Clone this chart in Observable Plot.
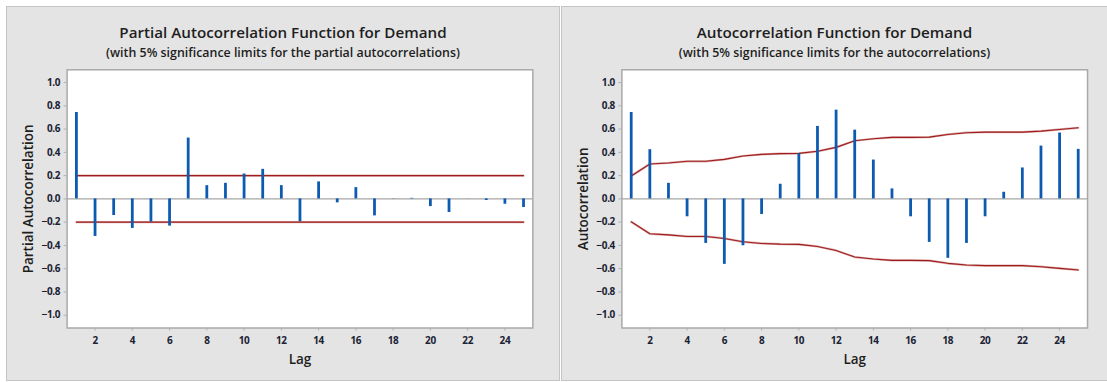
<!DOCTYPE html>
<html>
<head>
<meta charset="utf-8">
<script src="https://cdn.jsdelivr.net/npm/d3@7"></script>
<script src="https://cdn.jsdelivr.net/npm/@observablehq/plot@0.6"></script>
<style>
  html, body { margin: 0; padding: 0; background: #ffffff; }
  #root { position: relative; width: 1107px; height: 382px; overflow: hidden; font-family: "Open Sans", "Noto Sans", sans-serif; }
  .panel { position: absolute; background: #e4e4e4; border: 1px solid #c4c4c4; box-sizing: border-box; }
  .title { position: absolute; left: 0; right: 0; text-align: center; color: #1e1e1e; font-weight: 600; white-space: nowrap; }
  .t1 { font-size: 15.2px; top: 15px; }
  .t2 { font-size: 12.4px; top: 37px; }
  .chart { position: absolute; left: 0; top: 54px; }
  .chart svg { background: transparent !important; overflow: visible; }
  .chart g[aria-label="x-axis tick label"] text, .chart g[aria-label="y-axis tick label"] text { font-size: 10px; font-weight: 700; fill: #1a2233; letter-spacing: -0.4px; }
  .chart g[aria-label="x-axis label"] text, .chart g[aria-label="y-axis label"] text { font-size: 13.5px; font-weight: 600; fill: #1e1e1e; }
</style>
</head>
<body>
<div id="root">
  <div class="panel" id="p1" style="left:6px; top:6px; width:554px; height:375px;">
    <div class="title t1">Partial Autocorrelation Function for Demand</div>
    <div class="title t2">(with 5% significance limits for the partial autocorrelations)</div>
    <div class="chart" id="c1"></div>
  </div>
  <div class="panel" id="p2" style="left:561px; top:6px; width:547px; height:375px;">
    <div class="title t1">Autocorrelation Function for Demand</div>
    <div class="title t2">(with 5% significance limits for the autocorrelations)</div>
    <div class="chart" id="c2"></div>
  </div>
</div>
<script>
const lags = [1,2,3,4,5,6,7,8,9,10,11,12,13,14,15,16,17,18,19,20,21,22,23,24,25];
const pacf = [0.743,-0.323,-0.143,-0.254,-0.200,-0.234,0.523,0.114,0.134,0.214,0.254,0.114,-0.197,0.146,-0.034,0.097,-0.146,0.002,0.005,-0.066,-0.117,0.001,-0.014,-0.046,-0.074];
const pacfLimit = 0.2;
const acf = [0.743,0.423,0.134,-0.154,-0.383,-0.563,-0.403,-0.134,0.126,0.389,0.623,0.763,0.591,0.334,0.086,-0.154,-0.374,-0.511,-0.383,-0.154,0.057,0.266,0.454,0.566,0.426];
const acfLimit = [0.197,0.300,0.309,0.323,0.323,0.340,0.369,0.383,0.389,0.391,0.409,0.443,0.500,0.517,0.529,0.529,0.531,0.554,0.569,0.574,0.574,0.574,0.583,0.597,0.611];
const yTicks = [-1.0,-0.8,-0.6,-0.4,-0.2,0.0,0.2,0.4,0.6,0.8,1.0];
const xTicks = [2,4,6,8,10,12,14,16,18,20,22,24];

const barColor = "#0d5bb0";
const limitColor = "#a01c1c";

function makeChart(values, upper, lower, yLabel, width, marginLeft, marginRight) {
  const bars = lags.map((l, i) => ({lag: l, v: values[i]}));
  const up = lags.map((l, i) => ({lag: l, v: upper[i]}));
  const lo = lags.map((l, i) => ({lag: l, v: lower[i]}));
  return Plot.plot({
    width, height: 318,
    marginLeft, marginRight, marginTop: 8.3, marginBottom: 51,
    style: {background: "transparent", fontFamily: "'Open Sans', 'Noto Sans', sans-serif"},
    x: {domain: [0.5, 25.5]},
    y: {domain: [-1.11, 1.11]},
    marks: [
      Plot.frame({fill: "white", stroke: "none"}),
      Plot.ruleY([0], {stroke: "#a6a6a6", strokeWidth: 1.1}),
      Plot.line(up, {x: "lag", y: "v", stroke: "#dcaeae", strokeWidth: 2.2}),
      Plot.line(lo, {x: "lag", y: "v", stroke: "#dcaeae", strokeWidth: 2.2}),
      Plot.line(up, {x: "lag", y: "v", stroke: limitColor, strokeWidth: 1.1}),
      Plot.line(lo, {x: "lag", y: "v", stroke: limitColor, strokeWidth: 1.1}),
      Plot.ruleX(bars, {x: "lag", y1: 0, y2: "v", stroke: barColor, strokeWidth: 2.8}),
      Plot.frame({stroke: "#a9a9a9", strokeWidth: 1.5}),
      Plot.axisX({ticks: xTicks, tickSize: 3, tickPadding: 6, stroke: "#b0b0b0", label: "Lag", labelAnchor: "center", labelArrow: "none", labelOffset: 36}),
      Plot.axisY({ticks: yTicks, tickFormat: d3.format(".1f"), tickSize: 3, tickPadding: 4, stroke: "#b0b0b0", label: yLabel, labelAnchor: "center", labelArrow: "none", labelOffset: 44})
    ]
  });
}

document.getElementById("c1").appendChild(
  makeChart(pacf, lags.map(() => pacfLimit), lags.map(() => -pacfLimit), "Partial Autocorrelation", 553, 59.7, 26.7)
);
document.getElementById("c2").appendChild(
  makeChart(acf, acfLimit, acfLimit.map(v => -v), "Autocorrelation", 546, 59.5, 20)
);
</script>
</body>
</html>
